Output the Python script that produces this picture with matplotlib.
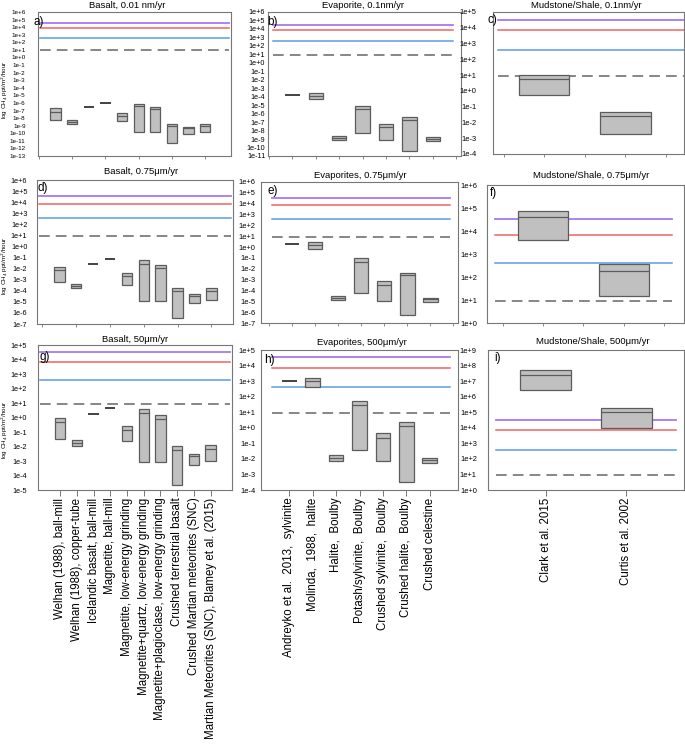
import matplotlib
matplotlib.use("Agg")
import matplotlib.pyplot as plt
import numpy as np

plt.rcParams['font.family'] = ['Liberation Sans', 'DejaVu Sans']

W, H = 685, 747

# ---------------- categories ----------------
basalt_labels = ["Welhan (1988), ball-mill", "Welhan (1988), copper-tube",
                 "Icelandic basalt, ball-mill", "Magnetite, ball-mill",
                 "Magnetite, low-energy grinding", "Magnetite+quartz, low-energy grinding",
                 "Magnetite+plagioclase, low-energy grinding", "Crushed terrestrial basalt",
                 "Crushed Martian meteorites (SNC)", "Martian Meteorites (SNC), Blamey et al. (2015)"]
evap_labels = ["Andreyko et al.  2013,  sylvinite", "Molinda,  1988,  halite",
               "Halite,  Boulby", "Potash/sylvinite,  Boulby", "Crushed sylvinite,  Boulby",
               "Crushed halite,  Boulby", "Crushed celestine"]
mud_labels = ["Clark et al. 2015", "Curtis et al. 2002"]

# ---------------- reference levels (ppt/m2/hour) ----------------
ref_purple = 3.3e4
ref_red = 7.0e3
ref_blue = 4.0e2
ref_dash = 9.0

# ---------------- values: low / high / median ----------------
a_lo = [6.3e-9, 1.9e-9, 2.9e-7, 8.9e-7, 4.2e-9, 1.7e-10, 1.7e-10, 4.8e-12, 9.3e-11, 1.7e-10]
a_hi = [1.9e-7, 5.1e-9, 2.9e-7, 8.9e-7, 4.1e-8, 6.5e-7, 2.6e-7, 1.9e-9, 6.6e-10, 1.9e-9]
a_med = [6.8e-8, 3.5e-9, 2.9e-7, 8.9e-7, 2.0e-8, 3.5e-7, 1.6e-7, 1.0e-9, 4.4e-10, 1.0e-9]

d_lo = [6.0e-4, 1.7e-4, 2.5e-2, 7.1e-2, 3.5e-4, 1.3e-5, 1.3e-5, 3.5e-7, 7.8e-6, 1.5e-5]
d_hi = [1.5e-2, 4.0e-4, 2.5e-2, 7.1e-2, 3.9e-3, 6.2e-2, 2.2e-2, 1.7e-4, 5.0e-5, 1.7e-4]
d_med = [7.8e-3, 2.8e-4, 2.5e-2, 7.1e-2, 2.2e-3, 2.7e-2, 1.1e-2, 8.7e-5, 3.1e-5, 1.0e-4]

g_lo = [3.5e-2, 1.1e-2, 1.7, 4.4, 2.3e-2, 8.5e-4, 8.5e-4, 2.3e-5, 5.5e-4, 9.3e-4]
g_hi = [0.87, 2.7e-2, 1.7, 4.4, 0.26, 3.9, 1.5, 1.1e-2, 3.2e-3, 1.2e-2]
g_med = [0.51, 1.8e-2, 1.7, 4.4, 0.13, 1.9, 0.79, 5.5e-3, 2.1e-3, 7.1e-3]

b_lo = [1.6e-4, 5.2e-5, 8.7e-10, 4.7e-9, 8.7e-10, 4.0e-11, 6.6e-10]
b_hi = [1.6e-4, 2.5e-4, 2.2e-9, 7.4e-6, 5.8e-8, 3.7e-7, 1.7e-9]
b_med = [1.6e-4, 1.2e-4, 1.4e-9, 3.8e-6, 2.8e-8, 1.8e-7, 1.1e-9]

e_lo = [1.8, 0.6, 1.2e-5, 6.0e-5, 1.0e-5, 5.6e-7, 8.3e-6]
e_hi = [1.8, 2.9, 3.0e-5, 8.9e-2, 7.2e-4, 4.3e-3, 2.1e-5]
e_med = [1.8, 1.4, 2.1e-5, 4.5e-2, 3.3e-4, 2.4e-3, 1.5e-5]

h_lo = [1070, 400, 6.9e-3, 3.5e-2, 6.9e-3, 3.4e-4, 5.4e-3]
h_hi = [1070, 1600, 1.7e-2, 52, 0.44, 2.5, 1.1e-2]
h_med = [1070, 980, 1.2e-2, 28, 0.21, 1.35, 7.9e-3]

c_lo = [0.54, 1.9e-3]
c_hi = [9.8, 4.7e-2]
c_med = [5.5, 2.7e-2]

f_lo = [4.0e3, 15]
f_hi = [7.4e4, 355]
f_med = [3.9e4, 182]

i_lo = [2.6e6, 9.1e3]
i_hi = [4.9e7, 2.0e5]
i_med = [2.3e7, 1.07e5]

# ---------------- styling ----------------
C_PURPLE = '#a57af0'
C_RED = '#f06262'
C_BLUE = '#5a9be8'
C_DASH = '#666666'
C_FILL = '#c0c0c0'
C_EDGE = '#5c5c5c'
C_FRAME = '#777777'

fig = plt.figure(figsize=(W / 100, H / 100), dpi=100)


def rect(l, t, r, b):
    return [l / W, 1 - b / H, (r - l) / W, (b - t) / H]


panels = [
    dict(k='a', title="Basalt, 0.01 nm/yr", lo=a_lo, hi=a_hi, med=a_med, labels=basalt_labels,
         ylim=(-13, 6), box=(38, 12, 231, 156), xlim=(-0.05, 11.55), ref=(0.01, 0.99),
         tpos=(127, 5), lpos=(33, 22), pad=9, fs=4.5, minor=np.arange(0, 11, 2), show_x=False),
    dict(k='b', title="Evaporite, 0.1nm/yr", lo=b_lo, hi=b_hi, med=b_med, labels=evap_labels,
         ylim=(-11, 6), box=(268, 12, 461, 156), xlim=(-0.04, 8.2), ref=(0.026, 0.96),
         tpos=(363, 5), lpos=(267, 22), pad=2, fs=5.2, minor=np.arange(0, 9, 1), show_x=False),
    dict(k='c', title="Mudstone/Shale, 0.1nm/yr", lo=c_lo, hi=c_hi, med=c_med, labels=mud_labels,
         ylim=(-4, 5), box=(493, 12, 684, 154), xlim=(0.37, 2.72), ref=(0.026, 1.0),
         tpos=(586, 5), lpos=(488, 20), pad=12, fs=5.4, minor=np.arange(0.5, 2.6, 0.5), show_x=False),
    dict(k='d', title="Basalt, 0.75μm/yr", lo=d_lo, hi=d_hi, med=d_med, labels=basalt_labels,
         ylim=(-7, 6), box=(37, 180, 233, 324), xlim=(-0.32, 11.28), ref=(0.01, 0.99),
         tpos=(141, 172), lpos=(38, 188), pad=7, fs=5.2, minor=np.arange(0, 11, 2), show_x=False),
    dict(k='e', title="Evaporites, 0.75μm/yr", lo=e_lo, hi=e_hi, med=e_med, labels=evap_labels,
         ylim=(-7, 6), box=(261, 182, 458, 323), xlim=(-0.36, 8.2), ref=(0.054, 0.958),
         tpos=(360, 175), lpos=(267, 191), pad=4, fs=5.4, minor=np.arange(0, 9, 1), show_x=False),
    dict(k='f', title="Mudstone/Shale, 0.75μm/yr", lo=f_lo, hi=f_hi, med=f_med, labels=mud_labels,
         ylim=(0, 6), box=(487, 185, 684, 323), xlim=(0.3, 2.75), ref=(0.042, 0.94),
         tpos=(591, 175), lpos=(490, 193), pad=7, fs=5.4, minor=np.arange(0.5, 2.6, 0.5), show_x=False),
    dict(k='g', title="Basalt, 50μm/yr", lo=g_lo, hi=g_hi, med=g_med, labels=basalt_labels,
         ylim=(-5, 5), box=(38, 345, 232, 490), xlim=(-0.32, 11.28), ref=(0.01, 0.99),
         tpos=(135, 340), lpos=(39, 357), pad=8, fs=5.2, minor=None, show_x=True),
    dict(k='h', title="Evaporites, 500μm/yr", lo=h_lo, hi=h_hi, med=h_med, labels=evap_labels,
         ylim=(-4, 5), box=(261, 350, 458, 490), xlim=(-0.21, 8.21), ref=(0.054, 0.958),
         tpos=(362, 343), lpos=(264, 360), pad=4, fs=5.4, minor=None, show_x=True),
    dict(k='i', title="Mudstone/Shale, 500μm/yr", lo=i_lo, hi=i_hi, med=i_med, labels=mud_labels,
         ylim=(0, 9), box=(488, 350, 684, 490), xlim=(0.29, 2.71), ref=(0.04, 0.957),
         tpos=(593, 342), lpos=(494, 358), pad=8, fs=5.4, minor=None, show_x=True),
]

BOX_W = 0.62

for p in panels:
    ax = fig.add_axes(rect(*p['box']))
    ax.set_yscale('log')
    lo = np.array(p['lo'], float)
    hi = np.array(p['hi'], float)
    med = np.array(p['med'], float)
    x = np.arange(1, len(lo) + 1)

    # reference lines
    x0, x1 = p['ref']
    ax.axhline(ref_purple, x0, x1, color=C_PURPLE, lw=1.3, zorder=2)
    ax.axhline(ref_red, x0, x1, color=C_RED, lw=1.1, zorder=2)
    ax.axhline(ref_blue, x0, x1, color=C_BLUE, lw=1.1, zorder=2)
    ax.axhline(ref_dash, x0, x1, color=C_DASH, lw=1.1, ls=(0, (7, 4)), zorder=2)

    rng = hi > lo
    ax.bar(x[rng], hi[rng] - lo[rng], bottom=lo[rng], width=BOX_W, color=C_FILL,
           edgecolor=C_EDGE, linewidth=0.9, zorder=3)
    ax.hlines(med[rng], x[rng] - BOX_W / 2, x[rng] + BOX_W / 2, color=C_EDGE, lw=0.9, zorder=4)
    single = ~rng
    ax.hlines(med[single], x[single] - BOX_W / 2, x[single] + BOX_W / 2, color='#222222',
              lw=1.2, zorder=4)

    y0, y1 = p['ylim']
    ax.set_ylim(10.0 ** y0, 10.0 ** y1)
    ax.set_xlim(*p['xlim'])
    exps = np.arange(y0, y1 + 1)
    ax.yaxis.set_major_locator(matplotlib.ticker.FixedLocator(10.0 ** exps))
    ax.yaxis.set_minor_locator(matplotlib.ticker.NullLocator())
    ax.set_yticklabels([f"1e{e:+d}" for e in exps])
    ax.tick_params(axis='y', length=0, pad=p['pad'], labelsize=p['fs'])

    if p['show_x']:
        ax.set_xticks(x)
        ax.set_xticklabels(p['labels'], rotation=90, fontsize=8.3, va='top', ha='center')
        ax.tick_params(axis='x', length=4, width=0.7, color=C_FRAME, pad=1.5)
    else:
        ax.set_xticks(p['minor'])
        ax.set_xticklabels([])
        ax.tick_params(axis='x', length=2.5, width=0.6, color=C_FRAME)

    for s in ax.spines.values():
        s.set_color(C_FRAME)
        s.set_linewidth(0.8)

    fig.text(p['tpos'][0] / W, 1 - p['tpos'][1] / H, p['title'], fontsize=6.8,
             ha='center', va='center')
    fig.text(p['lpos'][0] / W, 1 - p['lpos'][1] / H, p['k'] + ')', fontsize=8.5,
             ha='left', va='center')

ylab = "log CH$_4$ ppt/m$^2$/hour"
for yc in (90, 266, 430):
    fig.text(5 / W, 1 - yc / H, ylab, rotation=90, fontsize=4.5, ha='center', va='center')

fig.savefig('out.png', dpi=100)
